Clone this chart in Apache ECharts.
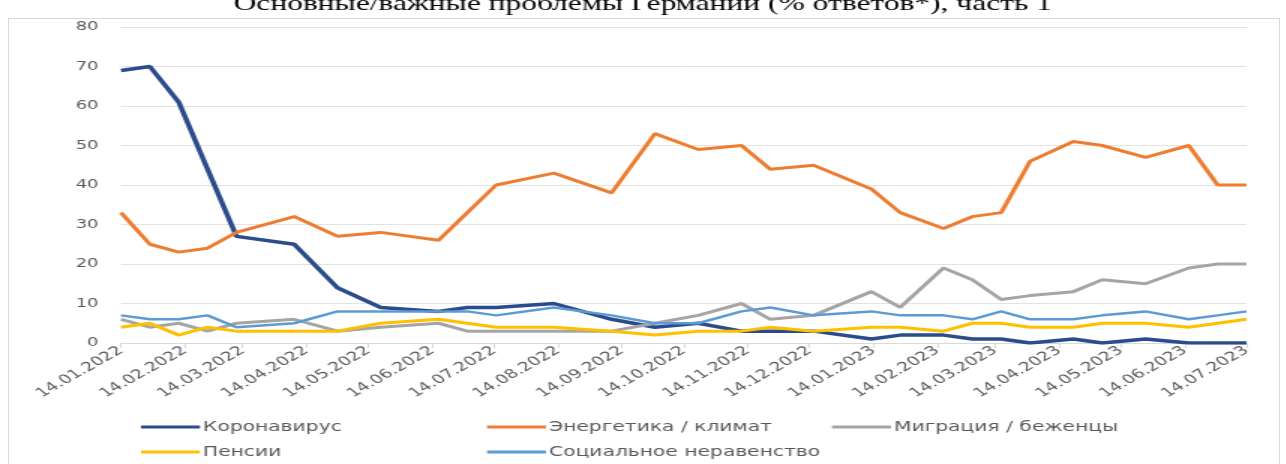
<!DOCTYPE html>
<html>
<head>
<meta charset="utf-8">
<script src="https://cdn.jsdelivr.net/npm/echarts@6/dist/echarts.min.js"></script>
<style>
  html, body { margin: 0; padding: 0; background: #fff; }
  #wrap { position: relative; width: 1286px; height: 464px; overflow: hidden; }
  #frame { position: absolute; left: 8px; top: 18px; width: 1272px; height: 470px; border: 1px solid #d9d9d9; box-sizing: border-box; }
  #chart { position: absolute; left: 0; top: 0; height: 464px; transform-origin: 0 0; }
</style>
</head>
<body>
<div id="wrap">
  <div id="frame"></div>
  <div id="chart"></div>
</div>
<script>
// даты опросов
const dates = [
  '2022-01-14', '2022-01-28', '2022-02-11', '2022-02-25', '2022-03-11', '2022-04-08',
  '2022-04-29', '2022-05-20', '2022-06-17', '2022-07-01', '2022-07-15', '2022-08-12',
  '2022-09-09', '2022-09-30', '2022-10-21', '2022-11-11', '2022-11-25', '2022-12-16',
  '2023-01-13', '2023-01-27', '2023-02-17', '2023-03-03', '2023-03-17', '2023-03-31',
  '2023-04-21', '2023-05-05', '2023-05-26', '2023-06-16', '2023-06-30', '2023-07-14'
];
const corona    = [69, 70, 61, 44, 27, 25, 14, 9, 8, 9, 9, 10, 6, 4, 5, 3, 3, 3, 1, 2, 2, 1, 1, 0, 1, 0, 1, 0, 0, 0];
const energy    = [33, 25, 23, 24, 28, 32, 27, 28, 26, 33, 40, 43, 38, 53, 49, 50, 44, 45, 39, 33, 29, 32, 33, 46, 51, 50, 47, 50, 40, 40];
const migration = [6, 4, 5, 3, 5, 6, 3, 4, 5, 3, 3, 3, 3, 5, 7, 10, 6, 7, 13, 9, 19, 16, 11, 12, 13, 16, 15, 19, 20, 20];
const pensions  = [4, 5, 2, 4, 3, 3, 3, 5, 6, 5, 4, 4, 3, 2, 3, 3, 4, 3, 4, 4, 3, 5, 5, 4, 4, 5, 5, 4, 5, 6];
const inequality = [7, 6, 6, 7, 4, 5, 8, 8, 8, 8, 7, 9, 7, 5, 5, 8, 9, 7, 8, 7, 7, 6, 8, 6, 6, 7, 8, 6, 7, 8];

// подписи оси X
const tickLabels = [
  '14.01.2022', '14.02.2022', '14.03.2022', '14.04.2022', '14.05.2022', '14.06.2022',
  '14.07.2022', '14.08.2022', '14.09.2022', '14.10.2022', '14.11.2022', '14.12.2022',
  '14.01.2023', '14.02.2023', '14.03.2023', '14.04.2023', '14.05.2023', '14.06.2023',
  '14.07.2023'
];

// картинка-образец растянута по горизонтали, повторяем это
const SX = 1.5;
const W = 1286 / SX;
const el = document.getElementById('chart');
el.style.width = W + 'px';
el.style.transform = 'scaleX(' + SX + ')';

const DAY = 86400000;
const t0 = Date.UTC(2022, 0, 14);
function isoToDay(s) {
  const p = s.split('-');
  return Math.round((Date.UTC(+p[0], +p[1] - 1, +p[2]) - t0) / DAY);
}
function labelToDay(s) {
  const p = s.split('.');
  return Math.round((Date.UTC(+p[2], +p[1] - 1, +p[0]) - t0) / DAY);
}
const tickValues = tickLabels.map(labelToDay);
const labelByDay = {};
tickLabels.forEach(function (l, i) { labelByDay[tickValues[i]] = l; });

function pairs(arr) {
  return arr.map(function (v, i) { return [isoToDay(dates[i]), v]; });
}

const font = 'DejaVu Sans';
const textColor = '#595959';

function line(name, data, color, width) {
  return {
    name: name,
    type: 'line',
    data: pairs(data),
    symbol: 'none',
    lineStyle: { color: color, width: width },
    itemStyle: { color: color }
  };
}

function legendItem(name, left, top) {
  return {
    data: [name],
    left: left / SX,
    top: top,
    padding: 0,
    icon: 'rect',
    itemWidth: 59 / SX,
    itemHeight: 3,
    itemGap: 4,
    textStyle: { fontFamily: font, fontSize: 13.5, color: textColor, padding: [0, 0, 0, -3] }
  };
}

const chart = echarts.init(el);
chart.setOption({
  animation: false,
  title: {
    text: 'Основные/важные проблемы Германии (% ответов*), часть 1',
    left: 'center',
    top: -11,
    textStyle: { fontFamily: 'Liberation Serif', fontSize: 21, fontWeight: 'normal', color: '#000' }
  },
  grid: { left: 121 / SX, right: 39 / SX, top: 27, bottom: 121 },
  legend: [
    legendItem('Коронавирус', 141, 420),
    legendItem('Энергетика / климат', 487, 420),
    legendItem('Миграция / беженцы', 832, 420),
    legendItem('Пенсии', 141, 445),
    legendItem('Социальное неравенство', 487, 445)
  ],
  xAxis: {
    type: 'value',
    min: tickValues[0],
    max: tickValues[tickValues.length - 1],
    axisLine: { show: true, onZero: false, lineStyle: { color: '#d9d9d9', width: 1 } },
    axisTick: { show: true, customValues: tickValues, length: 5, lineStyle: { color: '#d9d9d9' } },
    splitLine: { show: false },
    axisLabel: {
      customValues: tickValues,
      rotate: 40,
      margin: 6,
      fontFamily: font,
      fontSize: 12.5,
      color: textColor,
      formatter: function (v) { return labelByDay[v] || ''; }
    }
  },
  yAxis: {
    type: 'value',
    min: 0, max: 80, interval: 10,
    axisLine: { show: false },
    axisTick: { show: false },
    splitLine: { lineStyle: { color: '#e3e3e3', width: 1 } },
    axisLabel: { fontFamily: font, fontSize: 12, color: textColor, margin: 15 }
  },
  series: [
    line('Коронавирус', corona, '#2b4c8c', 3.5),
    line('Энергетика / климат', energy, '#ed7d31', 3),
    line('Миграция / беженцы', migration, '#a5a5a5', 3),
    line('Пенсии', pensions, '#ffc000', 3),
    line('Социальное неравенство', inequality, '#5b9bd5', 2.5)
  ]
});
</script>
</body>
</html>
